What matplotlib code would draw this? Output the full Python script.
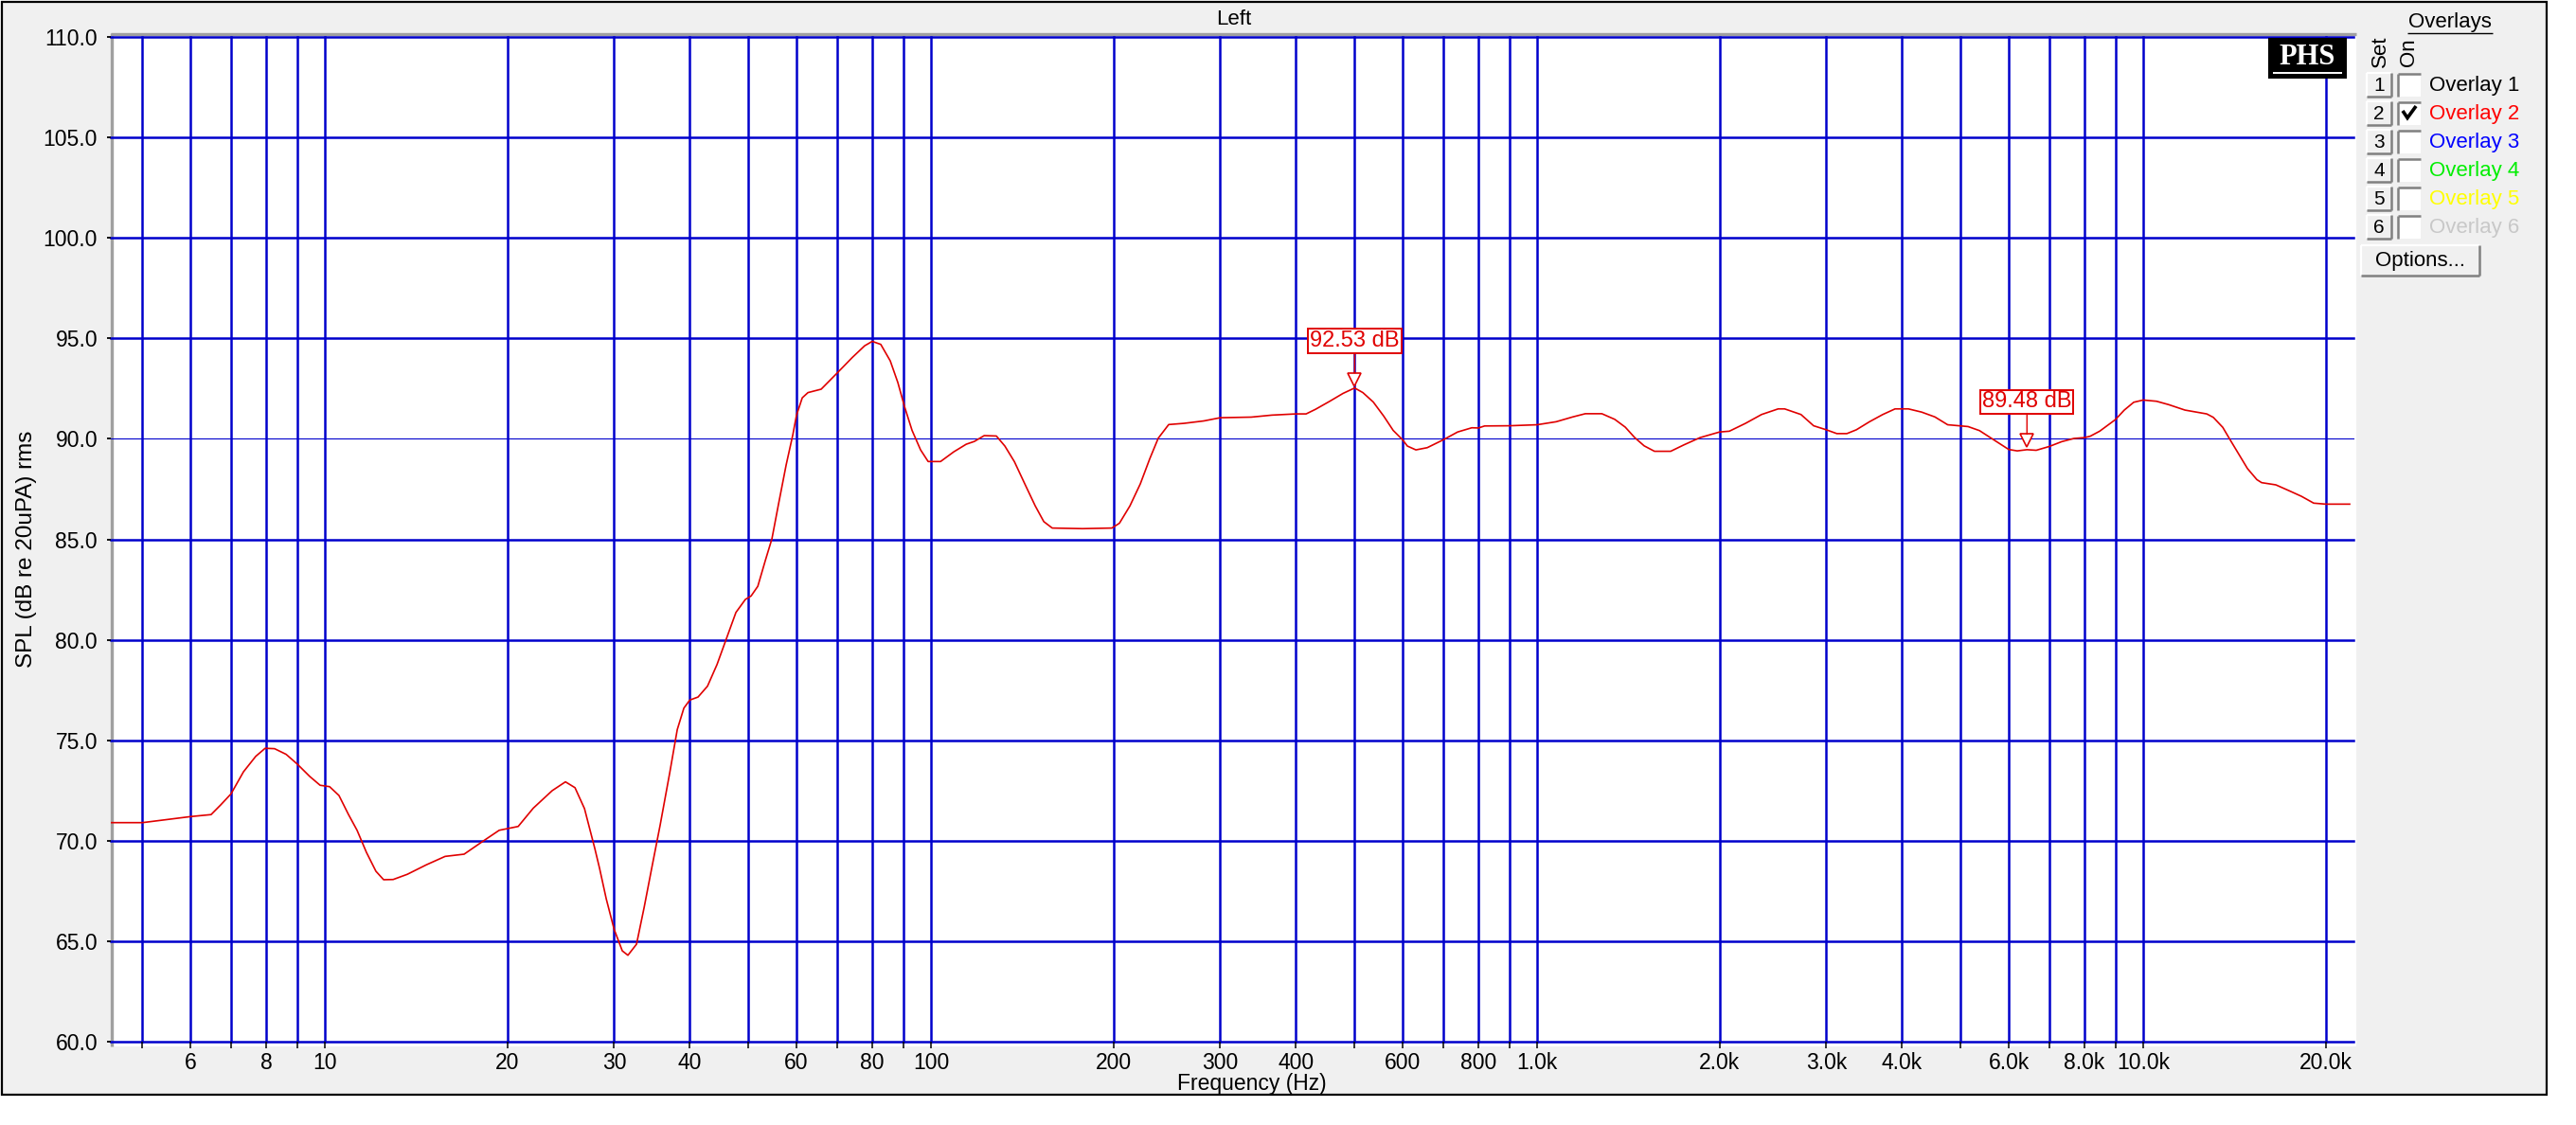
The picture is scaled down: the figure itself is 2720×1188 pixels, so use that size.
#!/usr/bin/env python3
"""SPL frequency response (Left channel, Overlay 2) in the style of an analyser window.

    python3 plot.py
"""
import matplotlib

matplotlib.use("Agg")
import matplotlib.pyplot as plt
from matplotlib.patches import Rectangle
from matplotlib.ticker import FixedLocator, NullLocator
from matplotlib.transforms import offset_copy

W, H, DPI = 2720, 1188, 100

FREQ_HZ = [
    4.43, 5.0, 5.52, 6.0, 6.49, 6.73, 7.0, 7.34, 7.69, 7.97, 8.26, 8.63, 9.0, 9.44,
    9.82, 10.18, 10.55, 10.94, 11.30, 11.71, 12.14, 12.50, 12.96, 13.68, 14.70,
    15.79, 16.97, 18.24, 19.39, 20.84, 22.07, 23.71, 24.94, 25.86, 26.81, 27.89,
    28.39, 29.12, 30.0, 30.95, 31.62, 32.67, 33.63, 34.61, 35.74, 37.06, 38.14,
    39.11, 40.0, 41.27, 42.78, 44.36, 45.98, 47.66, 49.41, 50.49, 51.79, 53.30,
    54.65, 56.04, 57.68, 59.16, 60.0, 61.32, 62.66, 65.89, 69.78, 74.17, 77.72,
    80.0, 82.63, 85.66, 88.17, 90.42, 93.06, 96.12, 98.93, 103.7, 109.0, 114.3,
    117.9, 122.4, 128.2, 132.4, 137.3, 142.8, 148.6, 153.5, 158.5, 177.8, 198.8,
    204.6, 212.9, 221.5, 229.6, 237.1, 246.7, 261.4, 281.8, 300.0, 337.5, 365.2,
    400.0, 415.8, 431.0, 454.9, 478.4, 500.0, 515.9, 536.7, 558.4, 578.8, 600.0,
    610.9, 631.0, 658.8, 700.0, 739.4, 780.3, 800.0, 819.2, 900.0, 1000, 1075,
    1145, 1201, 1279, 1343, 1398, 1449, 1502, 1562, 1661, 1747, 1857, 2000, 2076,
    2207, 2346, 2499, 2561, 2725, 2859, 3000, 3123, 3244, 3363, 3535, 3718, 3896,
    4098, 4310, 4532, 4758, 5000, 5141, 5368, 5623, 6000, 6197, 6430, 6660, 7000,
    7338, 7689, 8000, 8177, 8476, 9000, 9306, 9646, 10000, 10518, 11020, 11720,
    12730, 13050, 13530, 13920, 14330, 14860, 15400, 15680, 16550, 17400, 18240,
    19110, 20000, 21910,
]
SPL_DB = [
    70.90, 70.90, 71.06, 71.20, 71.30, 71.78, 72.33, 73.43, 74.20, 74.60, 74.58,
    74.30, 73.82, 73.20, 72.76, 72.69, 72.25, 71.30, 70.52, 69.42, 68.48, 68.06,
    68.07, 68.33, 68.80, 69.22, 69.33, 69.98, 70.52, 70.71, 71.62, 72.49, 72.93,
    72.64, 71.60, 69.60, 68.63, 67.11, 65.60, 64.52, 64.30, 64.85, 66.68, 68.63,
    70.78, 73.37, 75.53, 76.60, 77.00, 77.15, 77.69, 78.77, 80.07, 81.36, 82.01,
    82.18, 82.66, 83.95, 85.03, 86.76, 88.70, 90.20, 91.18, 92.04, 92.30, 92.47,
    93.23, 94.05, 94.63, 94.85, 94.70, 93.88, 92.80, 91.61, 90.42, 89.45, 88.87,
    88.87, 89.35, 89.73, 89.87, 90.16, 90.14, 89.64, 88.86, 87.76, 86.66, 85.88,
    85.56, 85.53, 85.56, 85.80, 86.66, 87.76, 89.01, 90.03, 90.71, 90.77, 90.89,
    91.05, 91.08, 91.18, 91.24, 91.24, 91.47, 91.87, 92.26, 92.53, 92.30, 91.83,
    91.13, 90.42, 89.95, 89.64, 89.45, 89.56, 89.95, 90.34, 90.55, 90.54, 90.64,
    90.65, 90.70, 90.85, 91.09, 91.25, 91.25, 90.97, 90.58, 90.06, 89.65, 89.38,
    89.38, 89.70, 90.06, 90.34, 90.38, 90.77, 91.21, 91.49, 91.49, 91.21, 90.65,
    90.45, 90.26, 90.26, 90.45, 90.85, 91.21, 91.49, 91.49, 91.33, 91.09, 90.70,
    90.64, 90.61, 90.41, 90.02, 89.47, 89.40, 89.46, 89.43, 89.62, 89.86, 90.02,
    90.06, 90.13, 90.38, 90.96, 91.43, 91.82, 91.93, 91.87, 91.70, 91.43, 91.24,
    91.07, 90.57, 89.94, 89.31, 88.52, 87.97, 87.82, 87.71, 87.42, 87.14, 86.80,
    86.75, 86.75,
]

X_GRID_HZ = [5, 6, 7, 8, 9, 10, 20, 30, 40, 50, 60, 70, 80, 90, 100, 200, 300,
             400, 500, 600, 700, 800, 900, 1000, 2000, 3000, 4000, 5000, 6000,
             7000, 8000, 9000, 10000, 20000]
X_LABELS = ["", "6", "", "8", "", "10", "20", "30", "40", "", "60", "", "80", "",
            "100", "200", "300", "400", "", "600", "", "800", "", "1.0k", "2.0k",
            "3.0k", "4.0k", "", "6.0k", "", "8.0k", "", "10.0k", "20.0k"]
Y_TICKS = [60, 65, 70, 75, 80, 85, 90, 95, 100, 105, 110]
REF_DB = 90

MARKER_HZ = [500, 6430]
MARKER_DB = [92.53, 89.48]

OVERLAY_NAMES = ["Overlay 1", "Overlay 2", "Overlay 3", "Overlay 4", "Overlay 5", "Overlay 6"]
OVERLAY_COLORS = ["#000000", "#ff0000", "#0000ff", "#00ee00", "#ffff00", "#c8c8c8"]
OVERLAY_ON = [False, True, False, False, False, False]

GRID_BLUE = "#0000cc"
CURVE_RED = "#e00000"
PANEL_BG = "#f0f0f0"
SHADE = "#808080"

plt.rcParams["font.family"] = ["Liberation Sans", "DejaVu Sans"]


def line(ax, xs, ys, color, lw):
    ax.plot(xs, ys, color=color, lw=lw, solid_capstyle="butt")


def button(ax, x0, y0, x1, y1, label, fs=15):
    ax.add_patch(Rectangle((x0, y0), x1 - x0, y1 - y0, fc=PANEL_BG, ec="none"))
    line(ax, [x0, x1], [y0, y0], "white", 1.6)
    line(ax, [x0, x0], [y0, y1], "white", 1.6)
    line(ax, [x0, x1], [y1, y1], SHADE, 1.8)
    line(ax, [x1, x1], [y0, y1], SHADE, 1.8)
    ax.text((x0 + x1) / 2, (y0 + y1) / 2 + 1, label, ha="center", va="center", fontsize=fs)


def checkbox(ax, x0, y0, size, checked):
    ax.add_patch(Rectangle((x0, y0), size, size, fc="white", ec="none"))
    line(ax, [x0, x0 + size], [y0, y0], SHADE, 1.8)
    line(ax, [x0, x0], [y0, y0 + size], SHADE, 1.8)
    if checked:
        ax.plot([x0 + 6, x0 + 10, x0 + 18], [y0 + 11, y0 + 17, y0 + 6],
                color="black", lw=2.6, solid_joinstyle="miter")


def main() -> None:
    fig = plt.figure(figsize=(W / DPI, H / DPI), dpi=DPI, facecolor="white")

    # window background, frame and plot well (pixel coordinates, y down)
    bg = fig.add_axes([0, 0, 1, 1], zorder=0)
    bg.set_xlim(0, W)
    bg.set_ylim(H, 0)
    bg.axis("off")
    bg.add_patch(Rectangle((2, 2), 2687, 1154, fc=PANEL_BG, ec="black", lw=1.6))
    bg.add_patch(Rectangle((118, 36), 2370, 1069, fc="white", ec="none"))
    line(bg, [117.5, 117.5], [35, 1105], "#a0a0a0", 2.4)
    line(bg, [117, 2488], [36, 36], "#a0a0a0", 2.4)

    # data axes
    left, right, top, bottom = 117, 2485, 39, 1100
    ax = fig.add_axes([left / W, 1 - bottom / H, (right - left) / W, (bottom - top) / H],
                      zorder=1)
    ax.set_facecolor("none")
    ax.set_xscale("log")
    ax.set_xlim(4.434, 22226)
    ax.set_ylim(60, 110)
    for s in ax.spines.values():
        s.set_visible(False)

    for f in X_GRID_HZ:
        ax.axvline(f, color=GRID_BLUE, lw=1.8, zorder=1, clip_on=False)
    for y in Y_TICKS:
        ax.axhline(y, color=GRID_BLUE, lw=0.8 if y == REF_DB else 1.8, zorder=1, clip_on=False)

    ax.xaxis.set_major_locator(FixedLocator(X_GRID_HZ))
    ax.xaxis.set_minor_locator(NullLocator())
    ax.set_xticklabels(X_LABELS)
    ax.set_yticks(Y_TICKS)
    ax.set_yticklabels([f"{y:.1f}" for y in Y_TICKS])
    ax.tick_params(axis="x", direction="out", length=5, width=1.1, pad=3, labelsize=16.5)
    ax.tick_params(axis="y", direction="out", length=3, width=1.3, pad=7, labelsize=16.5)

    ax.plot(FREQ_HZ, SPL_DB, color=CURVE_RED, lw=1.2, zorder=3)

    for f, v in zip(MARKER_HZ, MARKER_DB):
        tri = offset_copy(ax.transData, fig=fig, x=0, y=6.5, units="points")
        ax.plot([f], [v], marker="v", ms=10, mfc="white", mec=CURVE_RED, mew=1.2,
                transform=tri, zorder=5, clip_on=False)
        ax.annotate(
            f"{v:.2f} dB",
            xy=(f, v),
            xytext=(0, 36),
            textcoords="offset points",
            ha="center",
            va="center",
            fontsize=17,
            color=CURVE_RED,
            bbox=dict(boxstyle="square,pad=0.08", fc="white", ec=CURVE_RED, lw=1.4),
            arrowprops=dict(arrowstyle="-", color=CURVE_RED, lw=1.0, shrinkA=0, shrinkB=11.5),
            zorder=6,
        )

    # foreground: labels, logo, overlay panel
    fg = fig.add_axes([0, 0, 1, 1], zorder=3)
    fg.set_xlim(0, W)
    fg.set_ylim(H, 0)
    fg.axis("off")
    fg.patch.set_alpha(0)

    fg.text(1303, 20, "Left", ha="center", va="center", fontsize=16)
    fg.text(1322, 1145, "Frequency (Hz)", ha="center", va="center", fontsize=16.5)
    fg.text(28, 580, "SPL (dB re 20uPA) rms", ha="center", va="center",
            rotation=90, fontsize=17.5)

    fg.add_patch(Rectangle((2395, 40), 83, 43, fc="black", ec="none"))
    fg.text(2436.5, 60, "PHS", ha="center", va="center", color="white", fontsize=22,
            family=["Liberation Serif", "DejaVu Serif"], weight="bold")
    line(fg, [2400, 2473], [77, 77], "white", 1.4)

    fg.text(2587, 24, "Overlays", ha="center", va="center", fontsize=16)
    line(fg, [2542, 2632], [34.5, 34.5], "black", 1.0)
    fg.text(2513, 54, "Set", ha="center", va="center", rotation=90, fontsize=16)
    fg.text(2544, 55, "On", ha="center", va="center", rotation=90, fontsize=16)

    for i, (name, color, on) in enumerate(zip(OVERLAY_NAMES, OVERLAY_COLORS, OVERLAY_ON)):
        cy = 89.5 + 30 * i
        button(fg, 2499, cy - 12.5, 2525, cy + 12.5, str(i + 1))
        checkbox(fg, 2532, cy - 12, 24, on)
        fg.text(2565, cy + 1, name, ha="left", va="center", fontsize=16, color=color)

    button(fg, 2493, 259, 2618, 291, "Options...", fs=16)

    fig.savefig("out.png", dpi=DPI, facecolor="white")
    plt.close(fig)


if __name__ == "__main__":
    main()
